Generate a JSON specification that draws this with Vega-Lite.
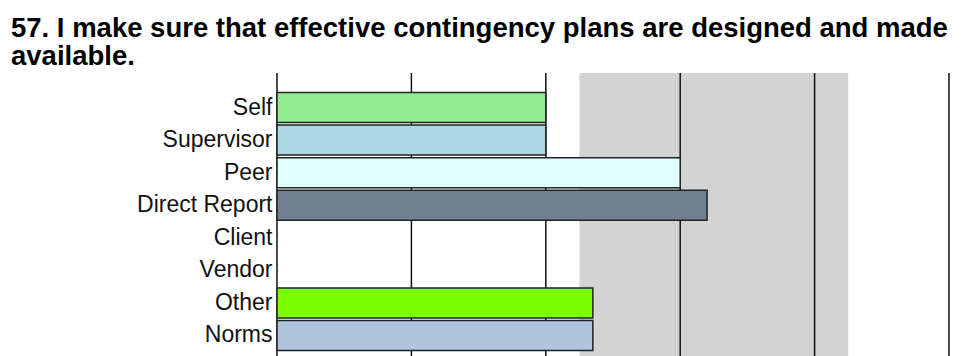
{
  "$schema": "https://vega.github.io/schema/vega-lite/v6.json",
  "autosize": "none",
  "padding": {"left": 277, "top": 73, "right": 13, "bottom": 0},
  "width": 672,
  "height": 297,
  "background": "white",
  "title": {
    "text": ["57. I make sure that effective contingency plans are designed and made", "available."],
    "anchor": "start",
    "frame": "group",
    "font": "Liberation Sans",
    "fontSize": 27.5,
    "fontWeight": "bold",
    "color": "#000000",
    "lineHeight": 28,
    "dx": -266,
    "offset": 2
  },
  "datasets": {
    "scores": [
      {"group": "Self", "value": 3.0},
      {"group": "Supervisor", "value": 3.0},
      {"group": "Peer", "value": 4.0},
      {"group": "Direct Report", "value": 4.2},
      {"group": "Client", "value": null},
      {"group": "Vendor", "value": null},
      {"group": "Other", "value": 3.35},
      {"group": "Norms", "value": 3.35}
    ],
    "band": [{"start": 3.25, "end": 5.25}],
    "grid": [{"v": 1}, {"v": 2}, {"v": 3}, {"v": 4}, {"v": 5}, {"v": 6}]
  },
  "layer": [
    {
      "data": {"name": "band"},
      "mark": {"type": "rect", "color": "#D3D3D3"},
      "encoding": {
        "x": {"field": "start", "type": "quantitative", "scale": {"domain": [1, 6]}, "axis": null},
        "x2": {"field": "end"}
      }
    },
    {
      "data": {"name": "grid"},
      "mark": {"type": "rule", "color": "#111111", "strokeWidth": 1.5},
      "encoding": {
        "x": {"field": "v", "type": "quantitative", "scale": {"domain": [1, 6]}, "axis": null}
      }
    },
    {
      "data": {"name": "scores"},
      "mark": {"type": "bar", "stroke": "#222222", "strokeWidth": 1.5},
      "encoding": {
        "y": {
          "field": "group",
          "type": "nominal",
          "sort": ["Self", "Supervisor", "Peer", "Direct Report", "Client", "Vendor", "Other", "Norms"],
          "scale": {"domain": ["Self", "Supervisor", "Peer", "Direct Report", "Client", "Vendor", "Other", "Norms"], "paddingInner": 0.08, "paddingOuter": 0.6},
          "axis": {"title": null, "ticks": false, "domain": false, "labelFont": "Liberation Sans", "labelFontSize": 23, "labelColor": "#111111", "labelPadding": 5, "labelLimit": 300}
        },
        "x": {"field": "value", "type": "quantitative", "scale": {"domain": [1, 6]}, "axis": null},
        "x2": {"datum": 1},
        "color": {
          "field": "group",
          "type": "nominal",
          "scale": {
            "domain": ["Self", "Supervisor", "Peer", "Direct Report", "Client", "Vendor", "Other", "Norms"],
            "range": ["#90EE90", "#ADD8E6", "#E0FFFF", "#708090", "#FFFFFF", "#FFFFFF", "#7CFC00", "#B0C4DE"]
          },
          "legend": null
        }
      }
    }
  ],
  "config": {"view": {"stroke": null}}
}
